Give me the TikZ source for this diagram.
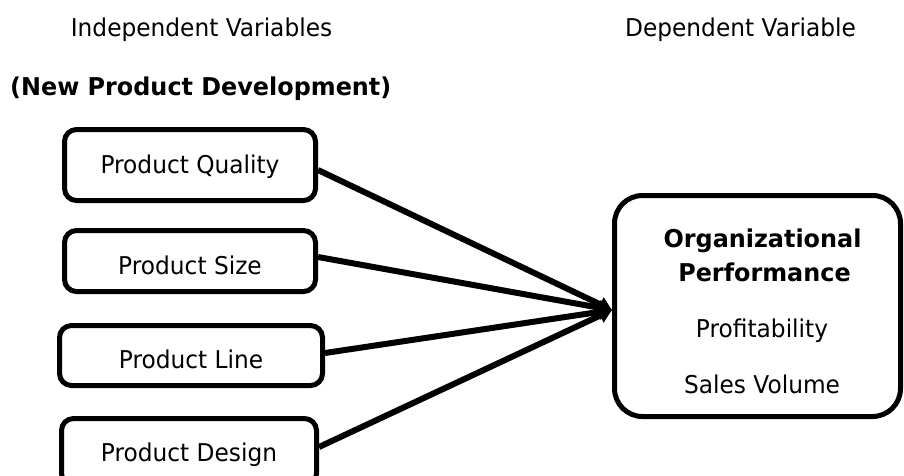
\documentclass[tikz,border=0pt]{standalone}
\usepackage{fontspec}
\setmainfont[FakeStretch=0.95]{DejaVu Sans}
\newfontfamily\hbfam[FakeStretch=0.975]{DejaVu Sans}
\usetikzlibrary{arrows.meta}
\tikzset{
  ivbox/.style={draw, line width=5pt, rounded corners=12pt, inner sep=0pt, text height=18pt, text depth=0pt, font=\fontsize{24.5}{28}\selectfont},
  dvbox/.style={draw, line width=5pt, rounded corners=28pt, inner sep=0pt, minimum width=286pt, minimum height=221pt},
  lbl/.style={anchor=base, inner sep=0pt, font=\fontsize{24.5}{28}\selectfont},
  blbl/.style={lbl, font=\fontsize{24.5}{28}\selectfont\hbfam\bfseries},
  conn/.style={line width=6pt, -{Triangle[length=13pt,width=15pt]}}
}
\begin{document}
\begin{tikzpicture}[x=1pt,y=-1pt]
\useasboundingbox (0,0) rectangle (904,475);
\clip (0,0) rectangle (904,475);
\fill[white] (0,0) rectangle (904,475);
\node[lbl] (iv) at (201.5,36) {Independent Variables};
\node[lbl] (dv) at (740.5,36) {Dependent Variable};
\node[blbl, anchor=base west] (npd) at (10,95) {(New Product Development)};
\node[ivbox, minimum width=251pt, minimum height=71pt] (q) at (190,165) {\raisebox{1pt}{Product Quality}};
\node[ivbox, minimum width=251pt, minimum height=61pt] (s) at (190,261) {\raisebox{-4.5pt}{Product Size}};
\node[ivbox, minimum width=263pt, minimum height=60pt] (l) at (191,355.5) {\raisebox{-3.5pt}{Product Line}};
\node[ivbox, minimum width=255pt, minimum height=67pt] (d) at (189,452) {Product Design};
\node[dvbox] (op) at (757.5,306) {};
\node[blbl] (org) at (762.5,247) {Organizational};
\node[blbl] (perf) at (764.5,281) {Performance};
\node[lbl] (prof) at (762,337) {Profitability};
\node[lbl] (sv) at (762,393) {Sales Volume};
\coordinate (tip) at ([yshift=-4pt]op.west);
\draw[conn] ([yshift=-5pt]q.east) -- (tip);
\draw[conn] ([yshift=4pt]s.east) -- (tip);
\draw[conn] ([yshift=2.5pt]l.east) -- (tip);
\draw[conn] ([yshift=5pt]d.east) -- (tip);
\end{tikzpicture}
\end{document}
